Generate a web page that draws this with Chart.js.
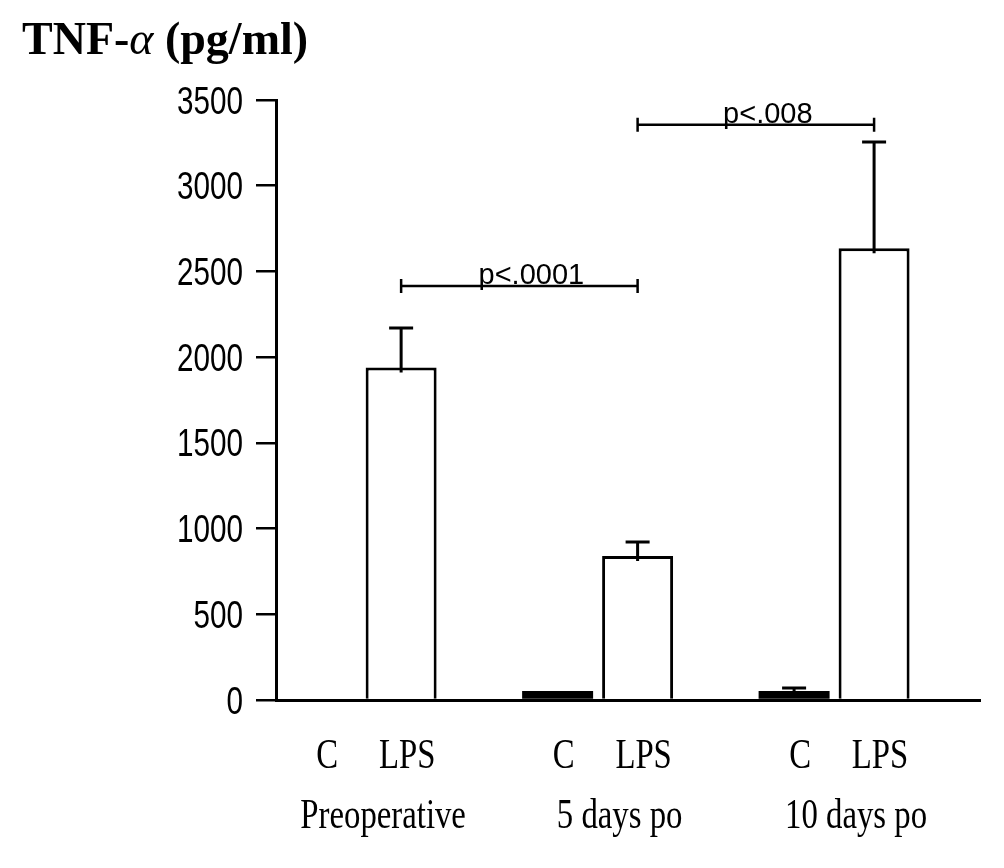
<!DOCTYPE html>
<html><head><meta charset="utf-8">
<script src="https://cdn.jsdelivr.net/npm/chart.js@4.4.0/dist/chart.umd.min.js"></script>
<style>html,body{margin:0;padding:0;background:#fff;} #wrap{width:1004px;height:868px;position:relative;}</style>
</head><body><div id="wrap"><canvas id="c"></canvas></div>
<script>
// ---- data ----
const groups = ['Preoperative', '5 days po', '10 days po'];
const groupIndex = [0, 1, 2];
const seriesNames = ['C', 'LPS'];
const controlValues = [0, 52, 52];
const controlErrors = [0, 0, 18];
const lpsValues = [1940, 840, 2635];
const lpsErrors = [230, 82, 620];
const yTicks = [0, 500, 1000, 1500, 2000, 2500, 3000, 3500];
const yTickLabels = ['0', '500', '1000', '1500', '2000', '2500', '3000', '3500'];
const pFrom = [0, 1];
const pTo = [1, 2];
const pLevels = [2415, 3355];
const pLabels = ['p<.0001', 'p<.008'];
const yTitleParts = ['TNF-', '\u03B1', ' (pg/ml)'];

const SANS = "'Liberation Sans', Arial, sans-serif";
const SERIF = "'Liberation Serif', 'Times New Roman', serif";

function condText(ctx, text, x, y, font, sx, align, baseline) {
  ctx.save();
  ctx.font = font;
  const w = ctx.measureText(text).width * sx;
  let left = x;
  if (align === 'center') left = x - w / 2;
  else if (align === 'right') left = x - w;
  ctx.translate(left, y);
  ctx.scale(sx, 1);
  ctx.textAlign = 'left';
  ctx.textBaseline = baseline || 'alphabetic';
  ctx.fillStyle = '#000';
  ctx.fillText(text, 0, 0);
  ctx.restore();
  return w;
}

const annotate = {
  id: 'annotate',
  afterDatasetsDraw(chart) {
    const ctx = chart.ctx;
    const xs = chart.scales.x, ys = chart.scales.y;
    ctx.save();
    ctx.strokeStyle = '#000';
    ctx.lineWidth = 3;
    ctx.lineCap = 'butt';
    // y tick labels (tall narrow sans)
    yTicks.forEach((v, i) => {
      condText(ctx, yTickLabels[i], xs.left - 33, ys.getPixelForValue(v) + 13.5, '38px ' + SANS, 0.78, 'right');
    });
    // error bars
    const errSets = [controlErrors, lpsErrors];
    const valSets = [controlValues, lpsValues];
    chart.data.datasets.forEach((ds, di) => {
      const meta = chart.getDatasetMeta(di);
      meta.data.forEach((bar, i) => {
        const e = errSets[di][i];
        if (!e) return;
        const v = valSets[di][i];
        const yTop = ys.getPixelForValue(v + e);
        const yBase = ys.getPixelForValue(v);
        ctx.beginPath();
        ctx.moveTo(bar.x, yBase + 5);
        ctx.lineTo(bar.x, yTop);
        ctx.moveTo(bar.x - 12, yTop);
        ctx.lineTo(bar.x + 12, yTop);
        ctx.stroke();
      });
    });
    // significance brackets
    const lpsMeta = chart.getDatasetMeta(1);
    ctx.lineWidth = 2.5;
    pLevels.forEach((lvl, k) => {
      const x1 = lpsMeta.data[pFrom[k]].x;
      const x2 = lpsMeta.data[pTo[k]].x;
      const y = ys.getPixelForValue(lvl);
      ctx.beginPath();
      ctx.moveTo(x1, y); ctx.lineTo(x2, y);
      ctx.moveTo(x1, y - 7); ctx.lineTo(x1, y + 7);
      ctx.moveTo(x2, y - 7); ctx.lineTo(x2, y + 7);
      ctx.stroke();
      condText(ctx, pLabels[k], (x1 + x2) / 2 + 12, y - 2, '29px ' + SANS, 1, 'center');
    });
    // category labels
    chart.data.datasets.forEach((ds, di) => {
      const meta = chart.getDatasetMeta(di);
      meta.data.forEach((bar) => {
        condText(ctx, seriesNames[di], bar.x + 6, 768, '42px ' + SERIF, 0.78, 'center');
      });
    });
    groups.forEach((g, i) => {
      condText(ctx, g, xs.getPixelForValue(groupIndex[i]) + 22, 828, '42px ' + SERIF, 0.78, 'center');
    });
    // axis title
    let x = 22;
    const fonts = ['bold 46px ' + SERIF, 'italic 46px ' + SERIF, 'bold 46px ' + SERIF];
    yTitleParts.forEach((t, i) => {
      x += condText(ctx, t, x, 54, fonts[i], 1, 'left');
    });
    ctx.restore();
  }
};

new Chart(document.getElementById('c'), {
  type: 'bar',
  data: {
    datasets: [
      {
        label: seriesNames[0],
        data: groupIndex.map((g, i) => ({ x: g, y: controlValues[i] })),
        backgroundColor: '#000',
        borderColor: '#000',
        borderWidth: 0
      },
      {
        label: seriesNames[1],
        data: groupIndex.map((g, i) => ({ x: g, y: lpsValues[i] })),
        backgroundColor: '#fff',
        borderColor: '#000',
        borderWidth: 3,
        borderSkipped: 'bottom'
      }
    ]
  },
  options: {
    responsive: true,
    maintainAspectRatio: false,
    animation: false,
    categoryPercentage: 0.6765,
    barPercentage: 0.8875,
    layout: { padding: { top: 100, right: 24, bottom: 0, left: 0 } },
    plugins: { legend: { display: false }, tooltip: { enabled: false }, title: { display: false } },
    scales: {
      x: {
        type: 'linear',
        min: -0.36,
        max: 2.617,
        offset: false,
        grid: { display: false },
        border: { display: true, color: '#000', width: 3 },
        ticks: { display: false },
        afterBuildTicks: (s) => { s.ticks = groupIndex.map(v => ({ value: v })); },
        afterFit: (s) => { s.height = 168; }
      },
      y: {
        min: yTicks[0],
        max: yTicks[yTicks.length - 1],
        afterBuildTicks: (s) => { s.ticks = yTicks.map(v => ({ value: v })); },
        ticks: { display: false },
        grid: { drawOnChartArea: false, drawTicks: true, tickLength: 20, color: '#000', lineWidth: 2.5 },
        border: { display: true, color: '#000', width: 3 },
        afterFit: (s) => { s.width = 276; }
      }
    }
  },
  plugins: [annotate]
});
</script>
</body></html>
